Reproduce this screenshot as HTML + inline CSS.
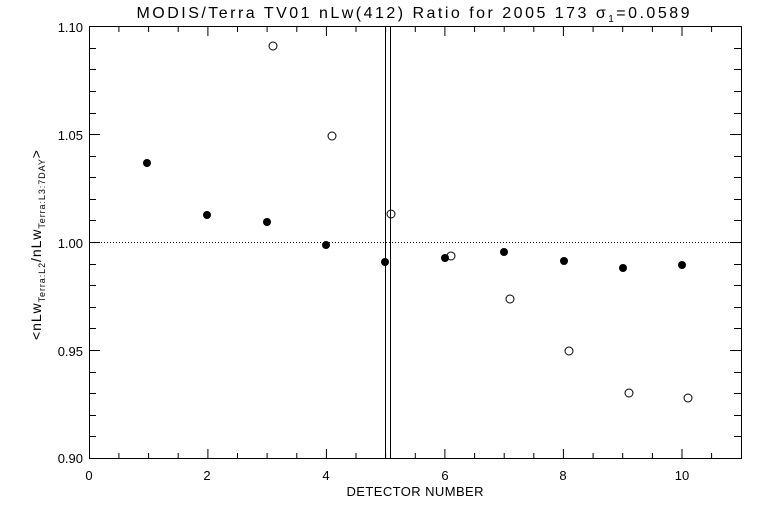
<!DOCTYPE html>
<html><head><style>body{margin:0;background:#fff}svg{display:block}text{font-family:"Liberation Sans",sans-serif;fill:#000}</style></head>
<body>
<svg width="768" height="512" xmlns="http://www.w3.org/2000/svg">
<rect width="768" height="512" fill="#fff"/>
<g stroke="#000" stroke-width="1" fill="none">
<rect x="89.5" y="26.5" width="652" height="432"/>
<line x1="385.5" y1="26" x2="385.5" y2="458"/>
<line x1="390.5" y1="26" x2="390.5" y2="458"/>
<line x1="89" y1="242.5" x2="741" y2="242.5" stroke-dasharray="1,2"/>
<path d="
M89.5,458v-3 M118.9,458v-5 M148.6,458v-5 M178.2,458v-5 M207.9,458v-9 M237.5,458v-5 M267.1,458v-5 M296.8,458v-5 M326.4,458v-9 M356,458v-5 M385.6,458v-5 M415.3,458v-5 M444.9,458v-9 M474.6,458v-5 M504.2,458v-5 M533.8,458v-5 M563.4,458v-9 M593.1,458v-5 M622.7,458v-5 M652.4,458v-5 M682,458v-9 M711.6,458v-5
M118.9,27v5 M148.6,27v5 M178.2,27v5 M207.9,27v9 M237.5,27v5 M267.1,27v5 M296.8,27v5 M326.4,27v9 M356,27v5 M385.6,27v5 M415.3,27v5 M444.9,27v9 M474.6,27v5 M504.2,27v5 M533.8,27v5 M563.4,27v9 M593.1,27v5 M622.7,27v5 M652.4,27v5 M682,27v9 M711.6,27v5
M89,48.5h7 M89,69.5h7 M89,91.5h7 M89,113.5h7 M89,134.5h11 M89,156.5h7 M89,177.5h7 M89,199.5h7 M89,220.5h7 M89,242.5h11 M89,264.5h7 M89,285.5h7 M89,307.5h7 M89,328.5h7 M89,350.5h11 M89,372.5h7 M89,393.5h7 M89,415.5h7 M89,436.5h7
M741,48.5h-7 M741,69.5h-7 M741,91.5h-7 M741,113.5h-7 M741,134.5h-11 M741,156.5h-7 M741,177.5h-7 M741,199.5h-7 M741,220.5h-7 M741,242.5h-11 M741,264.5h-7 M741,285.5h-7 M741,307.5h-7 M741,328.5h-7 M741,350.5h-11 M741,372.5h-7 M741,393.5h-7 M741,415.5h-7 M741,436.5h-7"/>
</g>
<g fill="#000">
<circle cx="147" cy="163" r="4"/><circle cx="207" cy="215" r="4"/><circle cx="267" cy="222" r="4"/><circle cx="326" cy="245" r="4"/><circle cx="385" cy="262" r="4"/><circle cx="445" cy="258" r="4"/><circle cx="504" cy="252" r="4"/><circle cx="564" cy="261" r="4"/><circle cx="623" cy="268" r="4"/><circle cx="682" cy="265" r="4"/>
</g>
<g fill="none" stroke="#000">
<circle cx="273" cy="46" r="4"/><circle cx="332" cy="136" r="4"/><circle cx="391" cy="214" r="4"/><circle cx="451" cy="256" r="4"/><circle cx="510" cy="299" r="4"/><circle cx="569" cy="351" r="4"/><circle cx="629" cy="393" r="4"/><circle cx="688" cy="398" r="4"/>
</g>
<g font-size="13">
<text x="83" y="32" text-anchor="end">1.10</text>
<text x="83" y="140" text-anchor="end">1.05</text>
<text x="83" y="248" text-anchor="end">1.00</text>
<text x="83" y="356" text-anchor="end">0.95</text>
<text x="83" y="463" text-anchor="end">0.90</text>
<text x="89" y="480" text-anchor="middle">0</text>
<text x="207" y="480" text-anchor="middle">2</text>
<text x="326" y="480" text-anchor="middle">4</text>
<text x="445" y="480" text-anchor="middle">6</text>
<text x="563" y="480" text-anchor="middle">8</text>
<text x="682" y="480" text-anchor="middle">10</text>
<text x="415" y="496" text-anchor="middle" textLength="137">DETECTOR NUMBER</text>
</g>
<text x="413" y="18" font-size="16" text-anchor="middle" textLength="553">MODIS/Terra TV01 nLw(412) Ratio for 2005 173 σ<tspan font-size="10" dy="4">1</tspan><tspan dy="-4">=0.0589</tspan></text>
<text transform="translate(41,150) rotate(-90)" font-size="14" text-anchor="end" textLength="190" lengthAdjust="spacing">&lt;nLw<tspan font-size="9" dy="4">Terra:L2</tspan><tspan dy="-4">/nLw</tspan><tspan font-size="9" dy="4">Terra:L3:7DAY</tspan><tspan dy="-4">&gt;</tspan></text>
</svg>
</body></html>
